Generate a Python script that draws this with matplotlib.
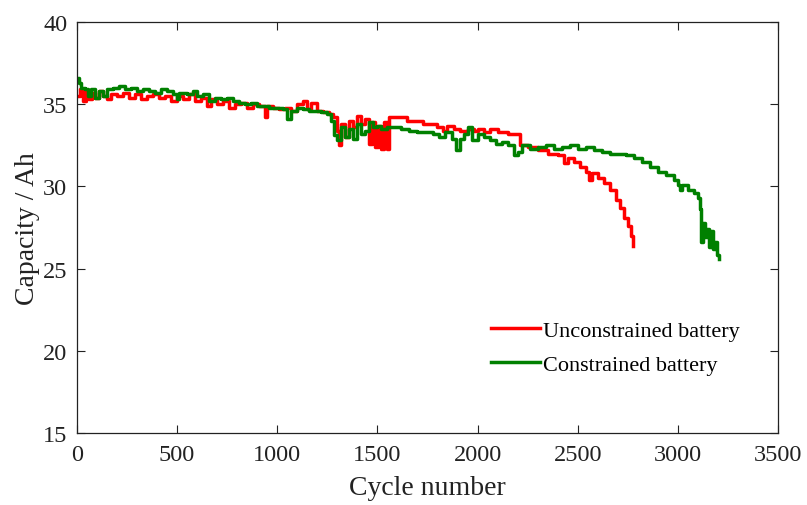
import matplotlib
matplotlib.use("Agg")
import matplotlib.pyplot as plt

red_cycles = [0, 15, 30, 45, 60, 75, 90, 110, 130, 150, 170, 200, 230, 260, 290, 320, 350, 380, 410, 440,
              470, 500, 530, 560, 590, 620, 650, 670, 700, 730, 760, 790, 820, 850, 880, 910, 940, 950, 980,
              1010, 1040, 1070, 1100, 1130, 1150, 1170, 1200, 1230, 1260, 1280, 1300, 1310, 1320, 1340, 1360,
              1380, 1400, 1420, 1440, 1460, 1475, 1490, 1505, 1520, 1535, 1550, 1560, 1600, 1650, 1700, 1730,
              1760, 1800, 1830, 1850, 1880, 1910, 1950, 1980, 2000, 2030, 2060, 2100, 2150, 2190, 2210, 2250,
              2300, 2350, 2400, 2430, 2450, 2480, 2510, 2540, 2555, 2570, 2600, 2630, 2660, 2690, 2710, 2730,
              2750, 2765, 2778]
red_capacity = [35.5, 35.9, 35.2, 35.8, 35.3, 35.7, 35.4, 35.8, 35.5, 35.3, 35.6, 35.5, 35.7, 35.4, 35.6, 35.3,
                35.5, 35.6, 35.4, 35.5, 35.2, 35.5, 35.3, 35.6, 35.2, 35.4, 34.9, 35.3, 35.0, 35.2, 34.8, 35.0,
                35.1, 34.8, 35.0, 34.9, 34.2, 34.9, 34.8, 34.7, 34.8, 34.6, 35.0, 35.2, 34.7, 35.1, 34.6, 34.5,
                34.4, 34.2, 33.4, 32.5, 33.8, 33.0, 34.0, 33.6, 34.3, 33.8, 34.1, 32.6, 33.9, 32.4, 33.7, 32.3,
                33.9, 32.3, 34.2, 34.2, 34.0, 34.0, 33.8, 33.8, 33.6, 33.4, 33.7, 33.5, 33.4, 33.5, 33.4, 33.5,
                33.3, 33.5, 33.3, 33.2, 33.2, 32.5, 32.4, 32.2, 32.0, 31.9, 31.4, 31.7, 31.5, 31.2, 30.9, 30.4,
                30.8, 30.5, 30.2, 29.8, 29.2, 28.7, 28.1, 27.6, 27.0, 26.4]

green_cycles = [0, 10, 20, 40, 55, 70, 90, 110, 130, 150, 180, 210, 240, 270, 300, 330, 360, 390, 420, 450,
                480, 500, 510, 550, 580, 600, 630, 660, 690, 720, 750, 780, 810, 840, 870, 900, 930, 960, 1000,
                1030, 1050, 1070, 1100, 1130, 1160, 1190, 1220, 1250, 1270, 1285, 1300, 1320, 1340, 1360, 1380,
                1400, 1420, 1440, 1460, 1480, 1500, 1520, 1550, 1580, 1620, 1660, 1700, 1740, 1780, 1810, 1840,
                1870, 1890, 1910, 1930, 1950, 1970, 2000, 2030, 2060, 2090, 2120, 2150, 2180, 2200, 2220, 2260,
                2300, 2340, 2380, 2420, 2460, 2500, 2540, 2580, 2620, 2660, 2700, 2740, 2780, 2820, 2860, 2900,
                2940, 2980, 3000, 3010, 3020, 3050, 3080, 3100, 3110, 3115, 3125, 3135, 3145, 3155, 3165, 3175,
                3185, 3195, 3205]
green_capacity = [36.6, 36.3, 36.0, 35.9, 35.5, 35.9, 35.4, 35.8, 35.5, 35.9, 36.0, 36.1, 35.9, 36.0, 35.8,
                  35.9, 35.8, 35.7, 35.9, 35.8, 35.6, 35.3, 35.7, 35.6, 35.8, 35.5, 35.6, 35.2, 35.4, 35.3,
                  35.4, 35.2, 35.1, 35.0, 35.1, 34.9, 34.9, 34.8, 34.8, 34.7, 34.1, 34.6, 34.8, 34.7, 34.6,
                  34.6, 34.5, 34.4, 34.0, 33.1, 32.8, 33.6, 33.0, 33.5, 32.9, 33.8, 33.2, 33.4, 33.9, 33.6,
                  33.7, 33.5, 33.6, 33.6, 33.5, 33.4, 33.3, 33.3, 33.2, 33.0, 33.3, 32.9, 32.2, 32.9, 33.2,
                  33.6, 32.8, 33.2, 33.0, 32.8, 32.6, 32.7, 32.5, 31.9, 32.1, 32.5, 32.3, 32.4, 32.5, 32.3,
                  32.4, 32.5, 32.3, 32.4, 32.2, 32.1, 32.0, 32.0, 31.9, 31.7, 31.5, 31.2, 30.9, 30.7, 30.4,
                  30.1, 29.8, 30.1, 29.8, 29.6, 29.3, 28.6, 26.6, 27.8, 26.9, 27.4, 26.3, 27.3, 26.2, 26.6,
                  25.8, 25.6]

x_ticks = [0, 500, 1000, 1500, 2000, 2500, 3000, 3500]
y_ticks = [15, 20, 25, 30, 35, 40]

plt.rcParams['font.family'] = ['Liberation Serif', 'DejaVu Serif']

fig = plt.figure(figsize=(8.07, 5.06), dpi=100)
ax = fig.add_axes([0.0954, 0.1423, 0.8686, 0.8122])

ax.plot(red_cycles, red_capacity, color='#ff0000', lw=2.5, drawstyle='steps-post',
        label='Unconstrained battery')
ax.plot(green_cycles, green_capacity, color='#008000', lw=2.5, drawstyle='steps-post',
        label='Constrained battery')

ax.set_xlim(0, 3500)
ax.set_ylim(15, 40)
ax.set_xticks(x_ticks)
ax.set_yticks(y_ticks)
ax.tick_params(direction='in', length=6, width=0.8, labelsize=17.5, top=True, right=True,
               colors='#222222', labelcolor='#222222')
ax.tick_params(axis='x', pad=8)
ax.tick_params(axis='y', pad=7)
for s in ax.spines.values():
    s.set_linewidth(0.9)
    s.set_color('#222222')

ax.set_xlabel('Cycle number', fontsize=20, color='#222222', labelpad=7)
ax.set_ylabel('Capacity / Ah', fontsize=20, color='#222222', labelpad=2)

ax.legend(loc='lower left', bbox_to_anchor=(0.578, 0.12), frameon=False, fontsize=16,
          handlelength=2.2, handletextpad=0.15, labelspacing=0.6, borderaxespad=0)

fig.savefig('out.png', dpi=100)
